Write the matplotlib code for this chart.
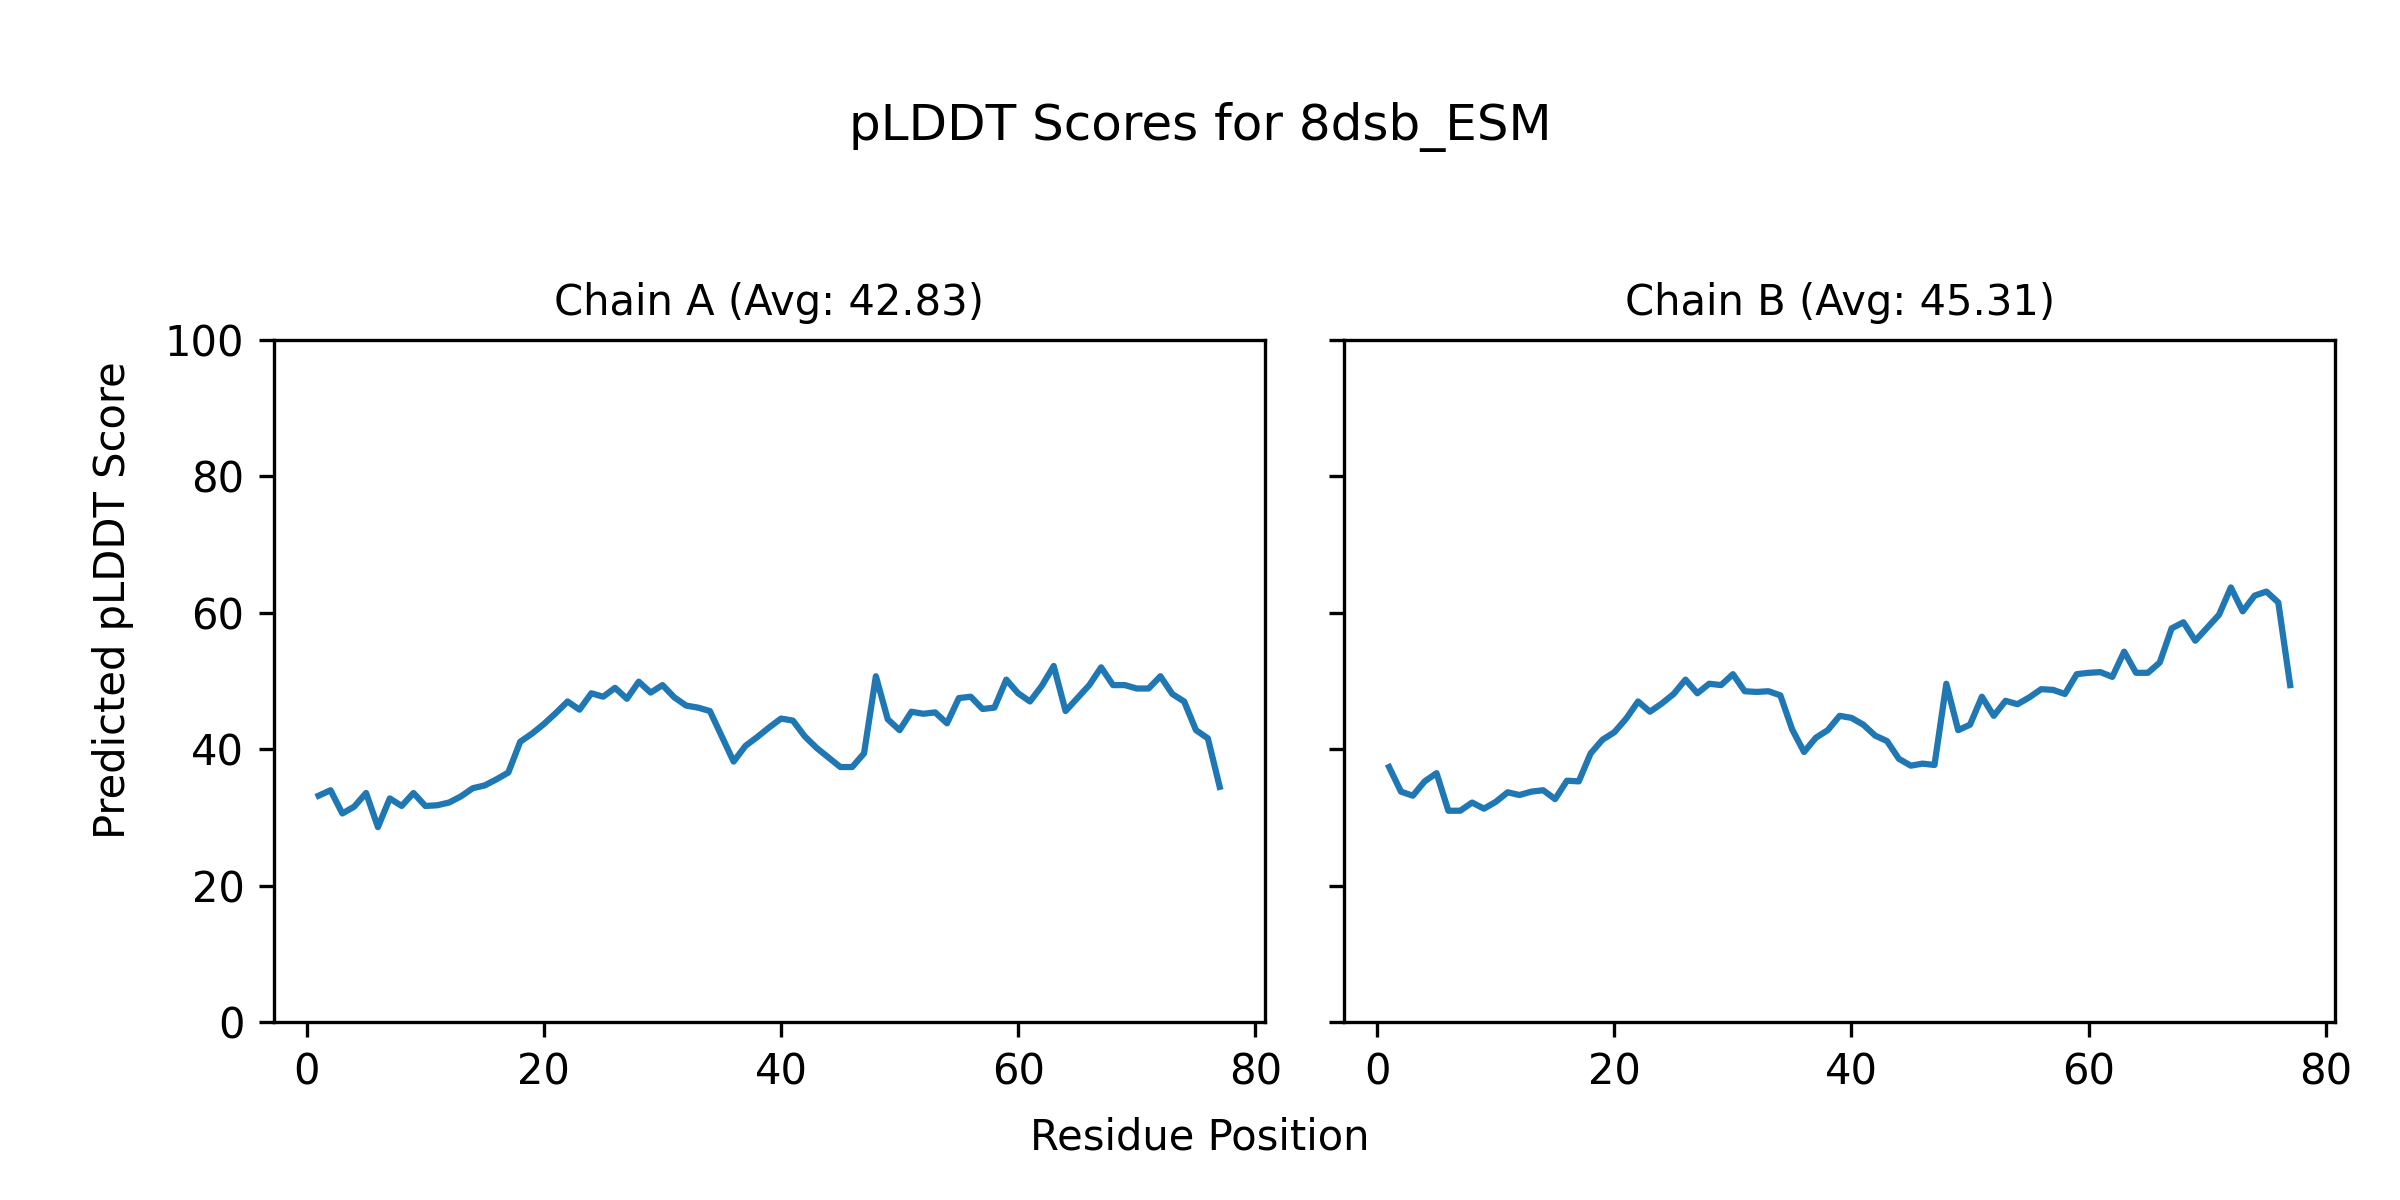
import matplotlib.pyplot as plt

# pLDDT per residue
residues = list(range(1, 78))

chain_a = [33.2, 34.0, 30.6, 31.6, 33.6, 28.6, 32.8, 31.7, 33.6, 31.7,
           31.8, 32.2, 33.1, 34.3, 34.7, 35.6, 36.6, 41.1, 42.3, 43.7,
           45.3, 47.0, 45.8, 48.2, 47.7, 49.0, 47.4, 49.9, 48.3, 49.4,
           47.6, 46.4, 46.1, 45.6, 41.9, 38.2, 40.5, 41.8, 43.2, 44.5,
           44.2, 41.9, 40.2, 38.8, 37.4, 37.4, 39.4, 50.7, 44.4, 42.8,
           45.5, 45.2, 45.4, 43.8, 47.5, 47.7, 45.9, 46.1, 50.2, 48.2,
           47.0, 49.3, 52.2, 45.6, 47.5, 49.4, 52.0, 49.4, 49.4, 48.9,
           48.9, 50.7, 48.1, 47.0, 42.8, 41.6, 34.5]

chain_b = [37.4, 33.8, 33.2, 35.3, 36.5, 31.0, 31.0, 32.2, 31.3, 32.3,
           33.7, 33.3, 33.8, 34.0, 32.7, 35.4, 35.3, 39.4, 41.4, 42.5,
           44.5, 47.0, 45.5, 46.7, 48.1, 50.2, 48.2, 49.6, 49.4, 51.0,
           48.5, 48.4, 48.5, 47.9, 42.9, 39.6, 41.7, 42.8, 44.9, 44.6,
           43.6, 42.0, 41.2, 38.6, 37.6, 37.9, 37.7, 49.6, 42.8, 43.6,
           47.7, 44.9, 47.1, 46.6, 47.6, 48.8, 48.7, 48.1, 51.0, 51.2,
           51.3, 50.6, 54.3, 51.2, 51.2, 52.7, 57.7, 58.6, 55.9, 57.8,
           59.7, 63.7, 60.2, 62.5, 63.1, 61.5, 49.4]

titles = ["Chain A (Avg: 42.83)", "Chain B (Avg: 45.31)"]

fig, axes = plt.subplots(1, 2, figsize=(8, 4), dpi=300, sharey=True)
fig.subplots_adjust(left=0.114, right=0.973, bottom=0.148, top=0.717, wspace=0.08)

for ax, scores, title in zip(axes, [chain_a, chain_b], titles):
    ax.plot(residues, scores)
    ax.set_title(title, fontsize=10)
    ax.set_ylim(0, 100)

fig.suptitle("pLDDT Scores for 8dsb_ESM", y=0.915)
fig.text(0.5, 0.052, "Residue Position", ha="center", va="center", fontsize=10)
fig.text(0.047, 0.5, "Predicted pLDDT Score", ha="center", va="center",
         rotation=90, fontsize=10)

fig.savefig("out.png", dpi=300)
